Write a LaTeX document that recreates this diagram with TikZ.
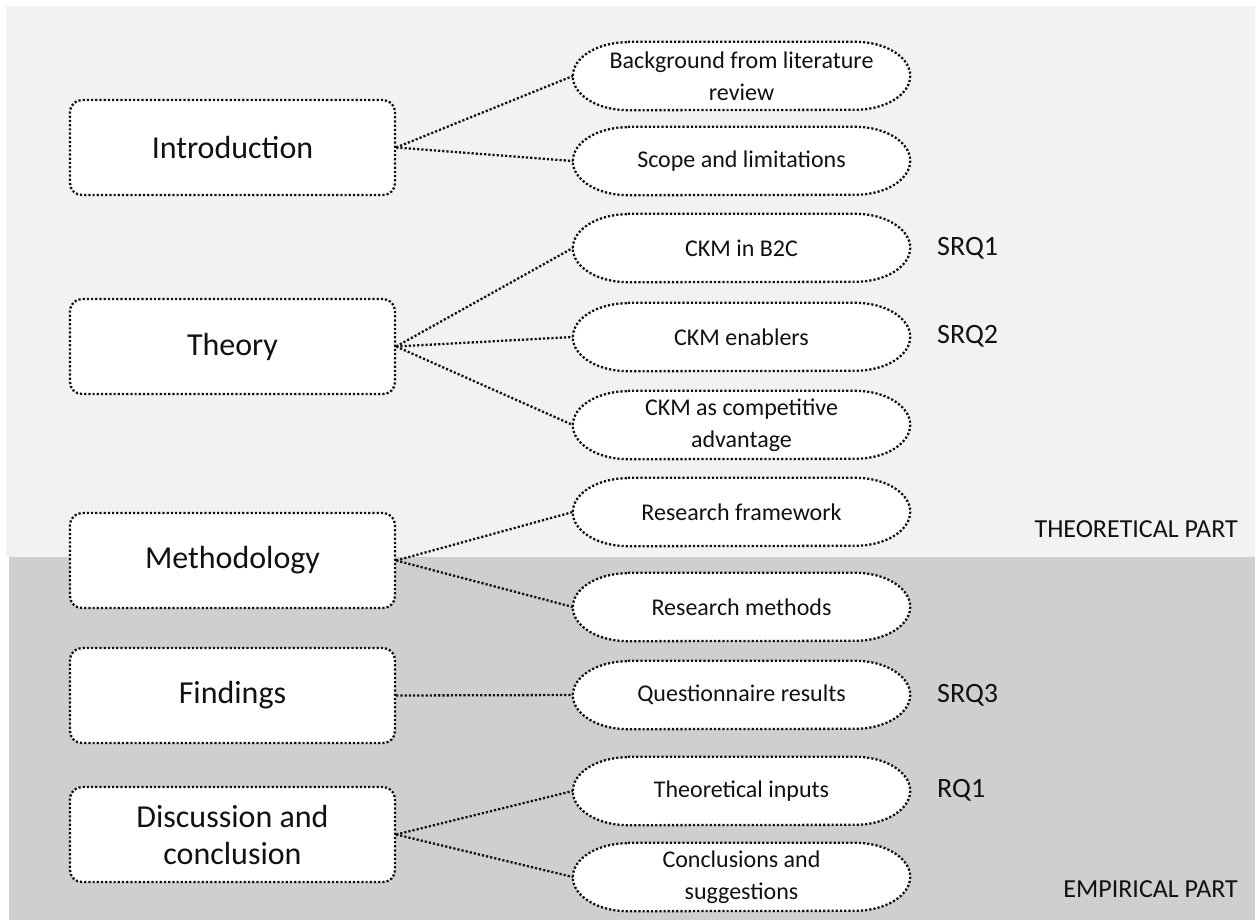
\documentclass[tikz,border=0pt]{standalone}
\usepackage{fontspec}
\setmainfont{Carlito}
\definecolor{toppart}{HTML}{F2F2F2}
\definecolor{lowpart}{HTML}{D0CECE}
\definecolor{ink}{HTML}{111111}
\pgfdeclarelayer{bands}
\pgfdeclarelayer{frames}
\pgfsetlayers{bands,frames,main}
% oval outline with elliptical ends drawn round a topic node
\newcommand{\ovalframe}[1]{%
  \path[dots,fill=white]
    ([xshift=55pt]#1.north west) -- ([xshift=-55pt]#1.north east)
    arc[start angle=90,end angle=-90,x radius=55pt,y radius=34pt]
    -- ([xshift=55pt]#1.south west)
    arc[start angle=270,end angle=90,x radius=55pt,y radius=34pt]
    -- cycle;}
\begin{document}
\begin{tikzpicture}[x=1pt,y=-1pt,
  dots/.style={line width=2.3pt,dash pattern=on 2.2pt off 2pt,draw=ink},
  chapter/.style={dots,fill=white,rounded corners=12pt,minimum width=325pt,
    minimum height=95pt,inner sep=0pt,align=center,text=ink,
    font=\fontsize{32}{37}\selectfont},
  topic/.style={minimum width=337pt,minimum height=68pt,inner sep=0pt,
    align=center,text=ink,font=\fontsize{24}{32}\selectfont},
  link/.style={dots},
  tag/.style={anchor=mid west,text=ink,inner sep=0pt,font=\fontsize{28}{30}\selectfont},
  part/.style={anchor=mid east,text=ink,inner sep=0pt,font=\fontsize{26}{30}\selectfont}]
\useasboundingbox (0,0) rectangle (1255,920);
% background bands
\begin{pgfonlayer}{bands}
\fill[white] (0,0) rectangle (1255,920);
\fill[toppart] (6,6) rectangle (1255,557);
\fill[lowpart] (9,557) rectangle (1255,920);
\end{pgfonlayer}

% chapters
\node[chapter] (intro) at (232.5,147.5) {Introduction};
\node[chapter] (theory) at (232.5,346.5) {Theory};
\node[chapter] (method) at (232.5,560.5) {Methodology};
\node[chapter] (find) at (232.5,695.5) {Findings};
\node[chapter] (disc) at (232.5,834.5) {Discussion and\\conclusion};

% topics
\node[topic] (bg) at (741.5,76) {Background from literature\\review};
\node[topic] (scope) at (741.5,161) {Scope and limitations};
\node[topic] (b2c) at (741.5,248) {CKM in B2C};
\node[topic] (enab) at (741.5,337) {CKM enablers};
\node[topic] (comp) at (741.5,425) {CKM as competitive\\advantage};
\node[topic] (frame) at (741.5,512) {Research framework};
\node[topic] (rmeth) at (741.5,607) {Research methods};
\node[topic] (quest) at (741.5,695) {Questionnaire results};
\node[topic] (tin) at (741.5,791) {Theoretical inputs};
\node[topic] (concl) at (741.5,877) {Conclusions and\\suggestions};

\begin{pgfonlayer}{frames}
\foreach \n in {bg,scope,b2c,enab,comp,frame,rmeth,quest,tin,concl}{\ovalframe{\n}}
% connectors
\draw[link] (intro.east) -- (bg.west);
\draw[link] (intro.east) -- (scope.west);
\draw[link] (theory.east) -- (b2c.west);
\draw[link] (theory.east) -- (enab.west);
\draw[link] (theory.east) -- (comp.west);
\draw[link] (method.east) -- (frame.west);
\draw[link] (method.east) -- (rmeth.west);
\draw[link] (find.east) -- (quest.west);
\draw[link] (disc.east) -- (tin.west);
\draw[link] (disc.east) -- (concl.west);
\end{pgfonlayer}

% research question tags
\node[tag] (q1) at (937,253) {SRQ1};
\node[tag] (q2) at (937,341) {SRQ2};
\node[tag] (q3) at (937,700) {SRQ3};
\node[tag] (q4) at (937,795) {RQ1};

% part labels
\node[part] (tp) at (1238,535) {THEORETICAL PART};
\node[part] (ep) at (1238,895) {EMPIRICAL PART};
\end{tikzpicture}
\end{document}
